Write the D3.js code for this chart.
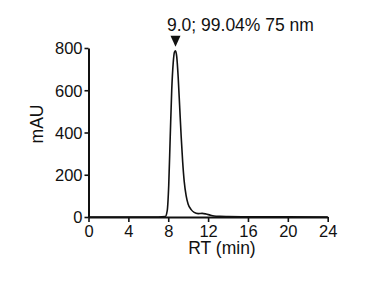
<!DOCTYPE html>
<html>
<head>
<meta charset="utf-8">
<script src="https://d3js.org/d3.v7.min.js"></script>
<style>
  body { margin: 0; background: #fff; }
  svg text { font-family: "Liberation Sans", Arial, sans-serif; fill: #111; }
</style>
</head>
<body>
<svg width="391" height="288"></svg>
<script>
// retention time (min) and absorbance (mAU)
const rt  = [0, 7.0, 7.7, 7.9, 8.05, 8.2, 8.35, 8.5, 8.62, 8.73, 8.85, 9.0, 9.15, 9.3, 9.45, 9.6, 9.8, 10.0, 10.3, 10.6, 11.0, 11.4, 11.8, 12.2, 12.6, 13.2, 14, 16, 20, 24];
const mau = [0, 0, 2, 30, 150, 380, 600, 730, 780, 787, 760, 660, 520, 380, 260, 170, 100, 60, 35, 22, 16, 17, 14, 9, 5, 3, 2, 1, 0.5, 0];

const xTicks = [0, 4, 8, 12, 16, 20, 24];
const yTicks = [0, 200, 400, 600, 800];
const peakRt = 8.73, peakVal = 787;
const peakLabel = "9.0; 99.04% 75 nm";

var svg = d3.select("svg");
var x = d3.scaleLinear().domain([0, 24]).range([88.5, 327.7]);
var y = d3.scaleLinear().domain([0, 800]).range([217, 48]);

var line = d3.line()
    .x(function(d, i) { return x(rt[i]); })
    .y(function(d) { return y(d); })
    .curve(d3.curveMonotoneX);

svg.append("path")
    .datum(mau)
    .attr("d", line)
    .attr("fill", "none")
    .attr("stroke", "#111")
    .attr("stroke-width", 1.6);

// axes
var xAxis = svg.append("g")
    .attr("transform", "translate(0," + y(0) + ")")
    .call(d3.axisBottom(x).tickValues(xTicks).tickSize(5).tickPadding(3).tickSizeOuter(0));
var yAxis = svg.append("g")
    .attr("transform", "translate(" + x(0) + ",0)")
    .call(d3.axisLeft(y).tickValues(yTicks).tickSize(4).tickPadding(2).tickSizeOuter(0));

[xAxis, yAxis].forEach(function(a) {
  a.select(".domain").attr("stroke", "#111").attr("stroke-width", 2);
  a.selectAll(".tick line").attr("stroke", "#111").attr("stroke-width", 1.6);
  a.selectAll("text").attr("font-size", 16.5).attr("fill", "#111")
    .attr("font-family", "Liberation Sans, Arial, sans-serif");
});
yAxis.selectAll("text").attr("dy", "0.36em");

// axis titles
svg.append("text")
    .attr("x", 222).attr("y", 254)
    .attr("text-anchor", "middle")
    .attr("font-size", 17.5)
    .text("RT (min)");

svg.append("text")
    .attr("transform", "translate(43,124) rotate(-90)")
    .attr("text-anchor", "middle")
    .attr("font-size", 17.5)
    .text("mAU");

// peak marker
var px = x(peakRt), py = y(peakVal);
svg.append("path")
    .attr("d", "M" + (px - 5) + "," + (py - 15) + "L" + (px + 5) + "," + (py - 15) + "L" + px + "," + (py - 4) + "Z")
    .attr("fill", "#111");

svg.append("text")
    .attr("x", 167).attr("y", 31)
    .attr("font-size", 17.5)
    .text(peakLabel);
</script>
</body>
</html>
